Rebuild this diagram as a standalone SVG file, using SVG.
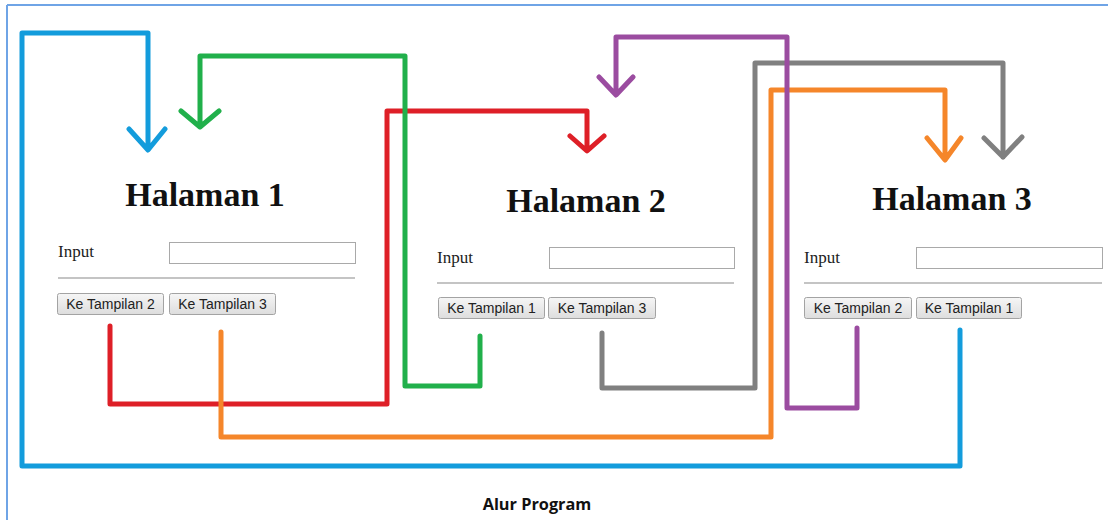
<svg xmlns="http://www.w3.org/2000/svg" width="1108" height="520" viewBox="0 0 1108 520">
<defs>
<linearGradient id="btnGrad" x1="0" y1="0" x2="0" y2="1">
<stop offset="0" stop-color="#f6f6f6"/>
<stop offset="1" stop-color="#dddddd"/>
</linearGradient>
</defs>
<style>
.title{font-family:"Liberation Serif",serif;font-weight:bold;font-size:34px;fill:#111;text-anchor:middle}
.lbl{font-family:"Liberation Serif",serif;font-size:17px;fill:#222}
.box{fill:#fff;stroke:#a9a9a9;stroke-width:1}
.hr{stroke:#c4c4c4;stroke-width:2}
.btn{fill:url(#btnGrad);stroke:#a3a3a3;stroke-width:1}
.btxt{font-family:"Liberation Sans",Arial,sans-serif;font-size:14px;fill:#222;text-anchor:middle}
.c{fill:none;stroke-width:5;stroke-linecap:round;stroke-linejoin:round}
.cap{font-family:"Open Sans","Noto Sans",sans-serif;font-weight:bold;font-size:16.3px;fill:#111;text-anchor:middle}
</style>
<rect x="0" y="0" width="1108" height="520" fill="#fff"/>
<g id="frame" stroke="#6fa4e6" stroke-width="2" fill="none">
<line x1="7" y1="5" x2="1108" y2="5"/>
<line x1="7" y1="5" x2="7" y2="520"/>
</g>
<g id="halaman1">
<text class="title" x="205" y="206">Halaman 1</text>
<text class="lbl" x="58" y="257">Input</text>
<rect class="box" x="169.5" y="242.5" width="186" height="21"/>
<line class="hr" x1="58" y1="278" x2="355" y2="278"/>
<rect class="btn" x="57.5" y="293.5" width="106" height="21" rx="2"/>
<text class="btxt" x="110.5" y="309">Ke Tampilan 2</text>
<rect class="btn" x="169.5" y="293.5" width="106" height="21" rx="2"/>
<text class="btxt" x="222.5" y="309">Ke Tampilan 3</text>
</g>
<g id="halaman2">
<text class="title" x="586" y="212">Halaman 2</text>
<text class="lbl" x="437" y="263">Input</text>
<rect class="box" x="549.5" y="247.5" width="185" height="21"/>
<line class="hr" x1="437" y1="283" x2="734" y2="283"/>
<rect class="btn" x="438.5" y="297.5" width="106" height="21" rx="2"/>
<text class="btxt" x="491.5" y="313">Ke Tampilan 1</text>
<rect class="btn" x="548.5" y="297.5" width="107" height="21" rx="2"/>
<text class="btxt" x="602" y="313">Ke Tampilan 3</text>
</g>
<g id="halaman3">
<text class="title" x="952" y="210">Halaman 3</text>
<text class="lbl" x="804" y="263">Input</text>
<rect class="box" x="916.5" y="247.5" width="186" height="21"/>
<line class="hr" x1="804" y1="283" x2="1102" y2="283"/>
<rect class="btn" x="804.5" y="297.5" width="107" height="21" rx="2"/>
<text class="btxt" x="858" y="313">Ke Tampilan 2</text>
<rect class="btn" x="916.5" y="297.5" width="105" height="21" rx="2"/>
<text class="btxt" x="969" y="313">Ke Tampilan 1</text>
</g>
<g id="connectors">
<path class="c" stroke="#de1f27" d="M110 326 V404 H387 V111 H587 V150 M570 136 L587 151 L604 136"/>
<path class="c" stroke="#21b04b" d="M480 336 V386 H405 V56 H200 V126 M181 111 L200 127 L219 111"/>
<path class="c" stroke="#808080" d="M602 333 V388 H755 V63 H1003 V157 M984 138 L1003 157 L1022 137"/>
<path class="c" stroke="#f5862a" d="M221 332 V437 H771 V90 H945 V159 M927 138 L945 160 L961 138"/>
<path class="c" stroke="#9b4ca0" d="M857 328 V408 H787 V37 H616 V94 M599 77 L616 95 L633 77"/>
<path class="c" stroke="#139cdc" d="M960 330 V466 H22 V33 H148 V149 M129 129 L148 150 L165 129"/>
</g>
<text class="cap" x="537" y="510">Alur Program</text>
</svg>
